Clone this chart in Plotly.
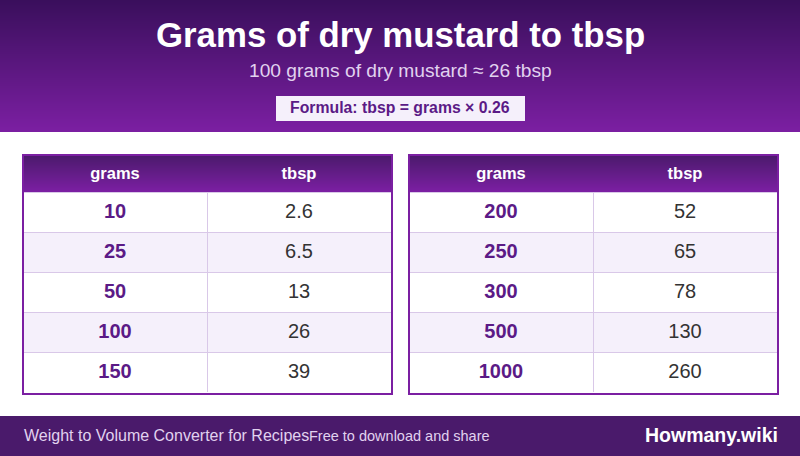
import plotly.graph_objects as go

W, H = 800, 456
title = "Grams of dry mustard to tbsp"
subtitle = "100 grams of dry mustard ≈ 26 tbsp"
formula = "Formula: tbsp = grams × 0.26"
footer_left = "Weight to Volume Converter for Recipes"
footer_mid = "Free to download and share"
footer_right = "Howmany.wiki"
col_heads = ["grams", "tbsp"]
grams_a = ["10", "25", "50", "100", "150"]
tbsp_a = ["2.6", "6.5", "13", "26", "39"]
grams_b = ["200", "250", "300", "500", "1000"]
tbsp_b = ["52", "65", "78", "130", "260"]

DARK = (58, 15, 92)
MID = (74, 26, 107)
LIGHT = (123, 31, 162)
INK = "#5b1a86"
ROW_ALT = "#f5f0fb"
LINE = "#d9c8e8"
FONT = "Liberation Sans"


def mix(a, b, t):
    return "rgb(%d,%d,%d)" % tuple(round(a[i] + (b[i] - a[i]) * t) for i in range(3))


def px_rect(x0, y0, x1, y1, fill, line=None, lw=0, layer="below"):
    return dict(type="rect", xref="paper", yref="paper", x0=x0 / W, x1=x1 / W,
                y0=1 - y1 / H, y1=1 - y0 / H, fillcolor=fill, layer=layer,
                line=dict(color=line or "rgba(0,0,0,0)", width=lw))


def txt(x, y, s, size, color, bold=False, anchor="center"):
    return dict(xref="paper", yref="paper", x=x / W, y=1 - y / H, text=f"<b>{s}</b>" if bold else s,
                showarrow=False, xanchor=anchor, yanchor="middle",
                font=dict(family=FONT, size=size, color=color))


def table(x0, x1, grams, tbsp):
    fills = ["#ffffff", ROW_ALT] * 3
    return go.Table(
        domain=dict(x=[x0 / W, x1 / W], y=[1 - 392 / H, 1 - 156 / H]),
        columnwidth=[184, 184],
        header=dict(values=[f"<b>{c}</b>" for c in col_heads], height=36,
                    fill_color="rgba(0,0,0,0)", line=dict(color="rgba(0,0,0,0)", width=0),
                    align="center", font=dict(family=FONT, size=16.5, color="#ffffff")),
        cells=dict(values=[[f"<b>{g}</b>" for g in grams], [f"<span>{t}</span>" for t in tbsp]], height=40,
                   fill_color=[fills[:len(grams)]] * 2, line=dict(color=LINE, width=1),
                   align="center",
                   font=dict(family=FONT, size=[20, 20], color=[INK, "#333333"])),
    )


shapes = []
# header gradient
for i in range(132):
    shapes.append(px_rect(0, i, W, i + 1, mix(DARK, LIGHT, i / 131)))
# table head gradients
for x0, x1 in ((22, 393), (408, 779)):
    for i in range(38):
        shapes.append(px_rect(x0, 154 + i, x1, 155 + i, mix(MID, LIGHT, i / 37)))
    shapes.append(px_rect(x0 + 1, 155, x1 - 1, 394, "rgba(0,0,0,0)", "#7b1fa2", 2, "above"))
shapes.append(px_rect(276, 96, 525, 121, ROW_ALT))
shapes.append(px_rect(0, 416, W, H, "#4a1a6b"))

annotations = [
    txt(400, 34, title, 34.8, "#ffffff", True),
    txt(400, 70, subtitle, 19.2, "#e1d2ef"),
    txt(400, 108, formula, 15.8, INK, True),
    txt(22, 435, footer_left, 16, "#e1d2ef", anchor="left"),
    txt(307, 436, footer_mid, 14.5, "#e1d2ef", anchor="left"),
    txt(780, 435, footer_right, 19.5, "#ffffff", True, anchor="right"),
]

fig = go.Figure([table(23, 391, grams_a, tbsp_a), table(409, 777, grams_b, tbsp_b)])
fig.update_layout(width=W, height=H, margin=dict(l=0, r=0, t=0, b=0), paper_bgcolor="#ffffff",
                  plot_bgcolor="#ffffff", shapes=shapes, annotations=annotations,
                  xaxis=dict(visible=False), yaxis=dict(visible=False), showlegend=False)
fig.write_html("out.html", config=dict(displayModeBar=False),
               post_script="document.body.style.margin='0';document.body.style.overflow='hidden';")
